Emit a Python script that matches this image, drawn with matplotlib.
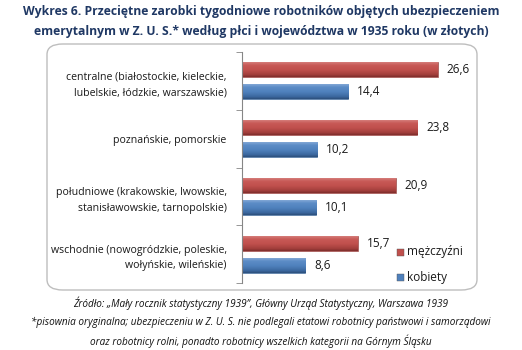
import matplotlib

matplotlib.use("Agg")
import matplotlib.pyplot as plt
import numpy as np
from matplotlib.patches import FancyBboxPatch
from matplotlib.colors import LinearSegmentedColormap

plt.rcParams["font.family"] = ["Open Sans", "DejaVu Sans"]

# data
regions = [
    "centralne (białostockie, kieleckie,\nlubelskie, łódzkie, warszawskie)",
    "poznańskie, pomorskie",
    "południowe (krakowskie, lwowskie,\nstanisławowskie, tarnopolskie)",
    "wschodnie (nowogródzkie, poleskie,\nwołyńskie, wileńskie)",
]
men = [26.6, 23.8, 20.9, 15.7]
women = [14.4, 10.2, 10.1, 8.6]
series_names = ["mężczyźni", "kobiety"]

red = "#C0504D"
blue = "#4F81BD"
shades = {
    red: ["#D98885", "#C85A57", "#C0504D", "#A33F3C", "#7F2E2C"],
    blue: ["#8EB0DA", "#5C8CC6", "#4F81BD", "#3C69A0", "#2C4F7C"],
}

fig = plt.figure(figsize=(5.22, 3.5), dpi=100)

# rounded frame around the plot
frame = FancyBboxPatch((47 / 522, 1 - 290 / 350), 430 / 522, 246 / 350,
                       boxstyle="round,pad=0,rounding_size=0.03",
                       transform=fig.transFigure, facecolor="none",
                       edgecolor="#BEBEBE", lw=1.0, zorder=0)
fig.patches.append(frame)

ax = fig.add_axes([242 / 522, 1 - 283 / 350, 221 / 522, 231 / 350])
ax.set_facecolor("none")

y = np.arange(len(regions))
h = 0.26
off = 0.19
bars_m = ax.barh(y - off, men, height=h, color=red, edgecolor="#8C3A38", lw=0.4)
bars_w = ax.barh(y + off, women, height=h, color=blue, edgecolor="#3A5F8C", lw=0.4)


def shade(bars, base):
    cmap = LinearSegmentedColormap.from_list(
        "c", list(zip([0, 0.25, 0.55, 0.85, 1.0], shades[base])))
    grad = np.linspace(0, 1, 64).reshape(-1, 1)
    for b in bars:
        x0, y0 = b.get_x(), b.get_y()
        im = ax.imshow(grad, cmap=cmap, vmin=0, vmax=1, aspect="auto",
                       extent=[x0, x0 + b.get_width(), y0 + b.get_height(), y0],
                       zorder=b.get_zorder() + 0.1)
        im.set_clip_path(b)


shade(bars_m, red)
shade(bars_w, blue)

for b, v in zip(list(bars_m) + list(bars_w), men + women):
    ax.text(v + 1.2, b.get_y() + b.get_height() / 2, f"{v:.1f}".replace(".", ","),
            va="center", ha="left", fontsize=8.5, color="#1a1a1a")

ax.set_xlim(0, 30)
ax.set_ylim(3.5, -0.5)
ax.set_xticks([])
ax.set_yticks(y)
ax.set_yticklabels(regions, fontsize=7.6, color="#1a1a1a", linespacing=1.6)
ax.tick_params(axis="y", length=0, pad=11)
ax.set_yticks(np.arange(-0.5, 4.0, 1.0), minor=True)
ax.tick_params(axis="y", which="minor", length=4, color="#868686")
for s in ["top", "right", "bottom"]:
    ax.spines[s].set_visible(False)
ax.spines["left"].set_color("#868686")

# legend
for i, (name, c) in enumerate(zip(series_names, [red, blue])):
    yy = 1 - (252 + 25 * i) / 350
    fig.patches.append(plt.Rectangle((397 / 522, yy - 3.5 / 350), 7 / 522, 7 / 350,
                                     transform=fig.transFigure, facecolor=c,
                                     edgecolor="#555555", lw=0.3))
    fig.text(407 / 522, yy, name, fontsize=8.5, va="center", ha="left",
             color="#1a1a1a")

fig.text(0.5, 1 - 12 / 350,
         "Wykres 6. Przeciętne zarobki tygodniowe robotników objętych ubezpieczeniem",
         ha="center", va="center", fontsize=8.7, fontweight="bold", color="#1F3864")
fig.text(0.5, 1 - 31 / 350,
         "emerytalnym w Z. U. S.* według płci i województwa w 1935 roku (w złotych)",
         ha="center", va="center", fontsize=8.7, fontweight="bold", color="#1F3864")

foot = [
    "Źródło: „Mały rocznik statystyczny 1939”, Główny Urząd Statystyczny, Warszawa 1939",
    "*pisownia oryginalna; ubezpieczeniu w Z. U. S. nie podlegali etatowi robotnicy państwowi i samorządowi",
    "oraz robotnicy rolni, ponadto robotnicy wszelkich kategorii na Górnym Śląsku",
]
for i, t in enumerate(foot):
    fig.text(0.5, 1 - (303 + 19 * i) / 350, t, ha="center", va="center",
             fontsize=7.2, style="italic", color="#111111")

fig.savefig("out.png", dpi=100)
